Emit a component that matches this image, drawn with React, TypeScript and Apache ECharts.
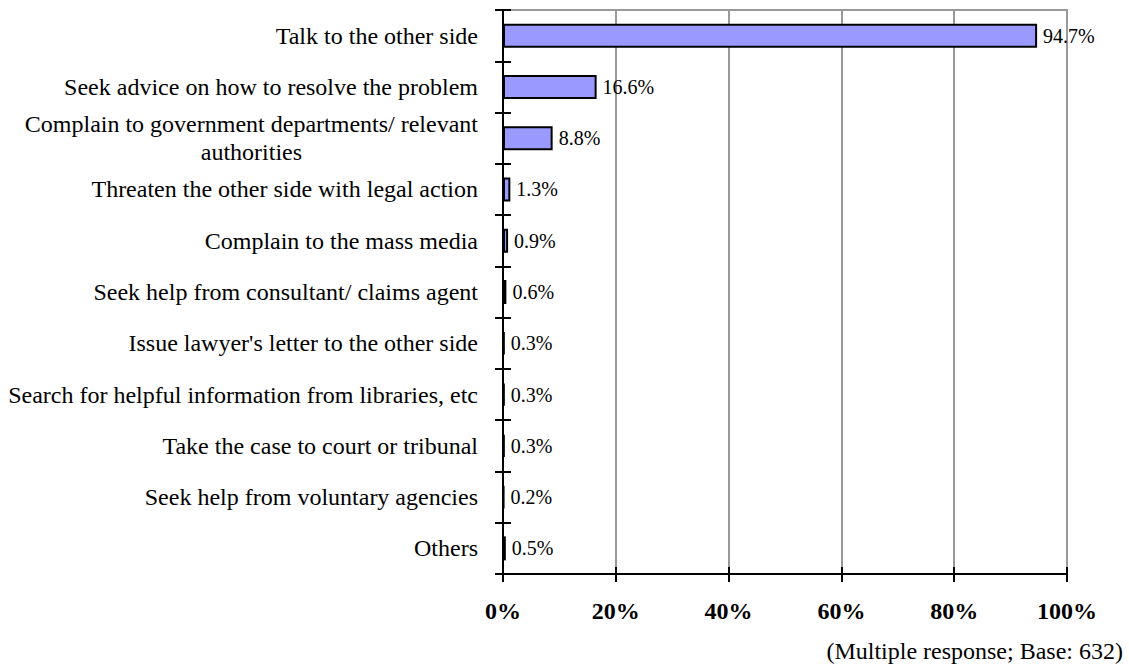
import React, { useEffect, useRef } from "react";
import * as echarts from "echarts";

const categories = [
  "Talk to the other side",
  "Seek advice on how to resolve the problem",
  "Complain to government departments/ relevant\nauthorities",
  "Threaten the other side with legal action",
  "Complain to the mass media",
  "Seek help from consultant/ claims agent",
  "Issue lawyer's letter to the other side",
  "Search for helpful information from libraries, etc",
  "Take the case to court or tribunal",
  "Seek help from voluntary agencies",
  "Others",
];
const values = [94.7, 16.6, 8.8, 1.3, 0.9, 0.6, 0.3, 0.3, 0.3, 0.2, 0.5];
const footnote = "(Multiple response; Base: 632)";

const FONT = "'Liberation Serif', 'Times New Roman', serif";

export default function App() {
  const ref = useRef<HTMLDivElement>(null);
  useEffect(() => {
    if (!ref.current) return;
    const chart = echarts.init(ref.current, null, { renderer: "svg" });
    const catLabel = (v: string) => {
      const lines = v.split("\n");
      if (lines.length === 1) return "{r|" + v + "}";
      return "{r|" + lines[0] + "}\n{c|" + lines[1] + "}";
    };
    chart.setOption({
      animation: false,
      backgroundColor: "#fff",
      grid: {
        left: 503,
        top: 10,
        right: 62,
        bottom: 94,
        containLabel: false,
        show: true,
        borderColor: "#999",
        borderWidth: 2,
      },
      xAxis: [
        {
          type: "value",
          min: 0,
          max: 100,
          interval: 20,
          position: "bottom",
          axisLine: { show: true, lineStyle: { color: "#000", width: 2 } },
          axisTick: { show: true, inside: false, length: 8, lineStyle: { color: "#000", width: 2 } },
          splitLine: { show: true, lineStyle: { color: "#999", width: 2 } },
          axisLabel: {
            formatter: "{value}%",
            fontFamily: FONT,
            fontWeight: "bold",
            fontSize: 24,
            color: "#000",
            margin: 25,
          },
        },
        {
          type: "value",
          min: 0,
          max: 100,
          interval: 20,
          position: "bottom",
          axisLine: { show: false },
          axisTick: { show: true, inside: true, length: 7, lineStyle: { color: "#000", width: 2 } },
          splitLine: { show: false },
          axisLabel: { show: false },
        },
      ],
      yAxis: [
        {
          type: "category",
          data: categories,
          inverse: true,
          axisLine: { show: true, lineStyle: { color: "#000", width: 2 } },
          axisTick: { show: true, inside: false, length: 8, lineStyle: { color: "#000", width: 2 } },
          axisLabel: {
            formatter: catLabel,
            margin: 25,
            color: "#000",
            fontFamily: FONT,
            fontSize: 24,
            lineHeight: 28,
            rich: {
              r: { fontFamily: FONT, fontSize: 24, color: "#000", lineHeight: 28 },
              c: { fontFamily: FONT, fontSize: 24, color: "#000", lineHeight: 28, align: "center" },
            },
          },
        },
        {
          type: "category",
          data: categories,
          inverse: true,
          position: "left",
          axisLine: { show: false },
          axisTick: { show: true, inside: true, length: 8, lineStyle: { color: "#000", width: 2 } },
          axisLabel: { show: false },
        },
      ],
      series: [
        {
          type: "bar",
          data: values,
          barWidth: 24,
          itemStyle: { color: "#9999FF", borderColor: "#000", borderWidth: 2 },
          label: {
            show: true,
            position: "right",
            distance: 6,
            formatter: (p: any) => p.value + "%",
            color: "#000",
            fontFamily: FONT,
            fontSize: 20,
          },
        },
      ],
      graphic: [
        {
          type: "text",
          right: 6,
          top: 639,
          style: { text: footnote, font: "24px " + FONT, fill: "#000" },
        },
      ],
    });
    return () => chart.dispose();
  }, []);
  return <div ref={ref} style={{ position: "absolute", left: 0, top: 0, width: 1129, height: 668 }} />;
}
